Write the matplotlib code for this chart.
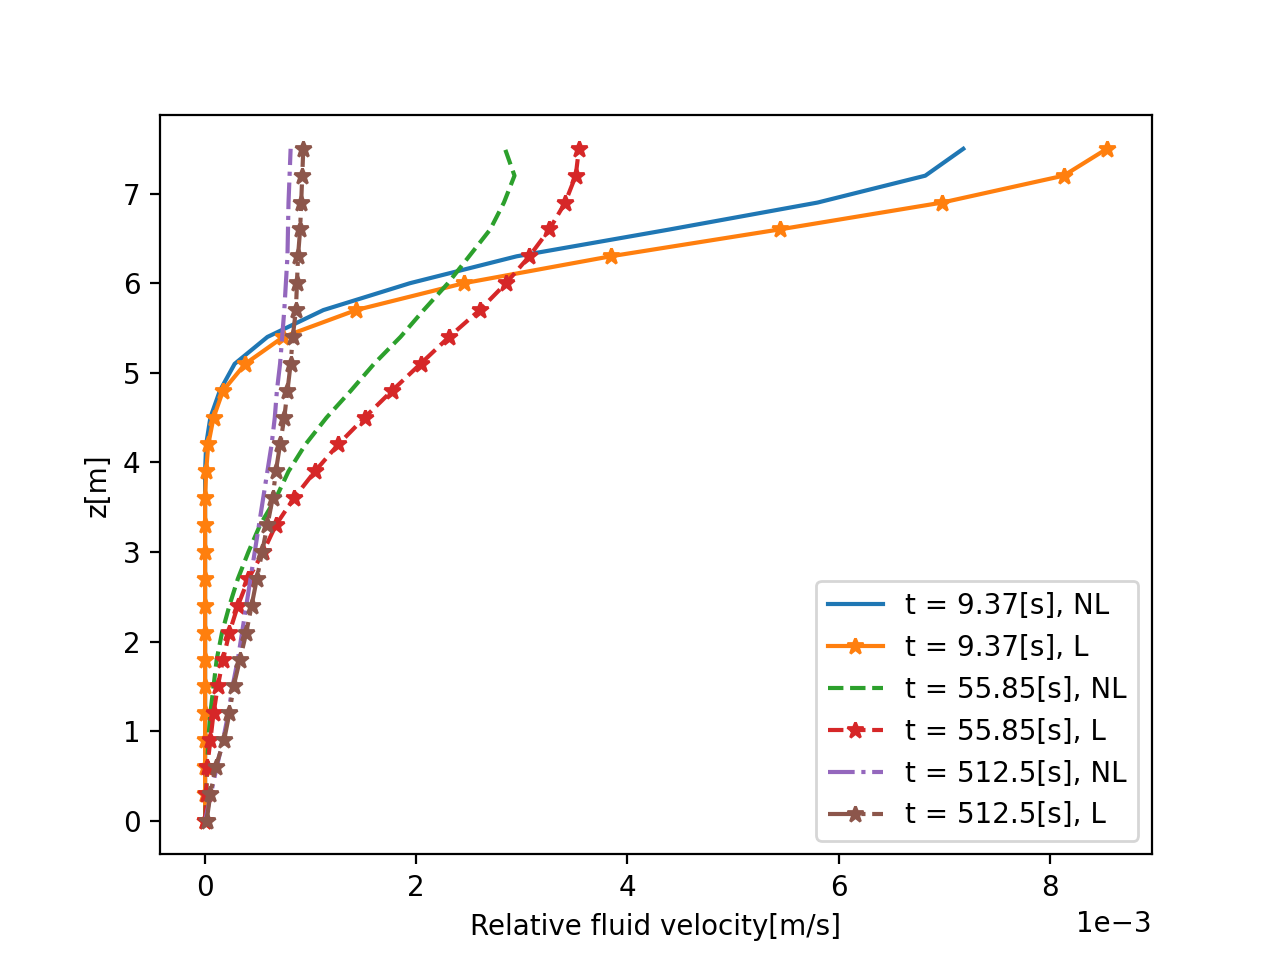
import numpy as np
import matplotlib
matplotlib.use('Agg')
import matplotlib.pyplot as plt

# depth levels [m]
z = [0.0, 0.3, 0.6, 0.9, 1.2, 1.5, 1.8, 2.1, 2.4, 2.7, 3.0, 3.3, 3.6,
     3.9, 4.2, 4.5, 4.8, 5.1, 5.4, 5.7, 6.0, 6.3, 6.6, 6.9, 7.2, 7.5]

# relative fluid velocity, in units of 1e-3 m/s
v_937_nl = [0.0, 0.0, 0.0, 0.0, 0.0, 0.0, 0.0, 0.0, 0.0, 0.0, 0.0, 0.0, 0.0,
            0.0, 0.01, 0.05, 0.14, 0.28, 0.59, 1.12, 1.94, 2.95, 4.40, 5.80, 6.82, 7.18]
v_937_l = [0.0, 0.0, 0.0, 0.0, 0.0, 0.0, 0.0, 0.0, 0.0, 0.0, 0.0, 0.0, 0.0,
           0.01, 0.03, 0.08, 0.17, 0.38, 0.74, 1.43, 2.45, 3.84, 5.44, 6.98, 8.13, 8.54]
v_5585_nl = [0.0, 0.01, 0.02, 0.03, 0.05, 0.08, 0.11, 0.16, 0.23, 0.31, 0.41, 0.52, 0.67,
             0.79, 0.95, 1.15, 1.38, 1.60, 1.85, 2.07, 2.30, 2.50, 2.70, 2.83, 2.93, 2.84]
v_5585_l = [0.0, 0.01, 0.02, 0.05, 0.08, 0.12, 0.17, 0.23, 0.31, 0.41, 0.55, 0.67, 0.84,
            1.04, 1.26, 1.51, 1.77, 2.04, 2.31, 2.60, 2.85, 3.07, 3.26, 3.41, 3.51, 3.54]
v_5125_nl = [0.0, 0.055, 0.11, 0.17, 0.22, 0.26, 0.31, 0.35, 0.39, 0.43, 0.47, 0.51, 0.55,
             0.59, 0.63, 0.66, 0.68, 0.71, 0.73, 0.75, 0.765, 0.78, 0.785, 0.79, 0.80, 0.81]
v_5125_l = [0.015, 0.05, 0.10, 0.18, 0.23, 0.27, 0.33, 0.39, 0.44, 0.49, 0.54, 0.59, 0.64,
            0.67, 0.71, 0.75, 0.78, 0.81, 0.83, 0.86, 0.87, 0.88, 0.90, 0.91, 0.92, 0.93]

series = [
    (v_937_nl, '-', 't = 9.37[s], NL'),
    (v_937_l, '-*', 't = 9.37[s], L'),
    (v_5585_nl, '--', 't = 55.85[s], NL'),
    (v_5585_l, '--*', 't = 55.85[s], L'),
    (v_5125_nl, '-.', 't = 512.5[s], NL'),
    (v_5125_l, '-.*', 't = 512.5[s], L'),
]

fig = plt.figure(figsize=(6.4, 4.8), dpi=200)
for vals, style, lab in series:
    plt.plot(np.array(vals) * 1e-3, z, style, label=lab)
plt.xlabel('Relative fluid velocity[m/s]')
plt.ylabel('z[m]')
plt.ticklabel_format(axis='x', style='sci', scilimits=(0, 0))
plt.legend(loc='lower right')
plt.savefig('out.png', dpi=200)
